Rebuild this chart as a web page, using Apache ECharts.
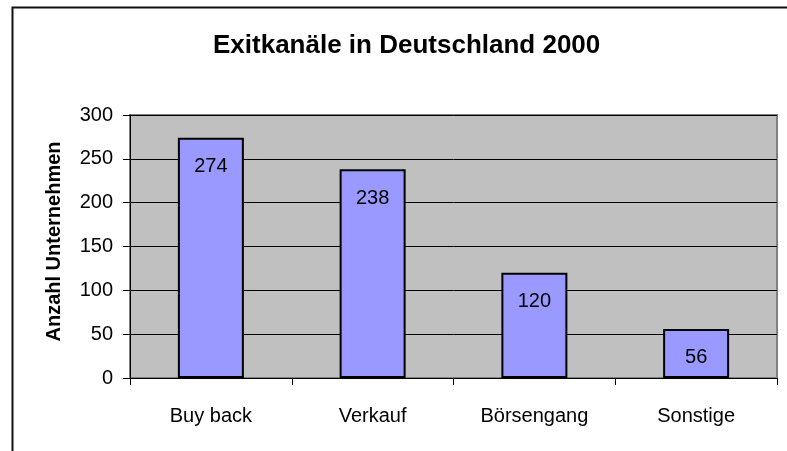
<!DOCTYPE html>
<html>
<head>
<meta charset="utf-8">
<title>Exitkanäle in Deutschland 2000</title>
<script src="https://cdn.jsdelivr.net/npm/echarts@6/dist/echarts.min.js"></script>
<style>
  html, body { margin: 0; padding: 0; background: #fff; }
  #chart { width: 787px; height: 451px; }
</style>
</head>
<body>
<div id="chart"></div>
<script>
// Daten aus dem Diagramm
const categories = ['Buy back', 'Verkauf', 'Börsengang', 'Sonstige']
const values = [274, 238, 120, 56]
const yTicks = [0, 50, 100, 150, 200, 250, 300]

const font = 'Liberation Sans, Arial, sans-serif'

const chart = echarts.init(document.getElementById('chart'))
chart.setOption({
  animation: false,
  title: {
    text: 'Exitkanäle in Deutschland 2000',
    left: 208,
    top: 28,
    textStyle: {
      fontFamily: font,
      fontSize: 26,
      fontWeight: 'bold',
      color: '#000',
    },
  },
  graphic: [
    {
      // Rahmen um das Diagramm
      type: 'rect',
      left: 10,
      top: 5,
      shape: { width: 800, height: 470 },
      style: { fill: 'none', stroke: '#111', lineWidth: 2 },
      silent: true,
    },
  ],
  grid: {
    left: 130,
    top: 115,
    right: 10,
    bottom: 73,
    show: true,
    backgroundColor: '#C0C0C0',
    borderColor: '#808080',
    borderWidth: 2,
  },
  xAxis: {
    type: 'category',
    data: categories,
    boundaryGap: true,
    axisLine: { show: true, lineStyle: { color: '#000', width: 1 } },
    axisTick: { show: true, alignWithLabel: false, length: 7, lineStyle: { color: '#000' } },
    axisLabel: {
      fontFamily: font,
      fontSize: 20,
      color: '#000',
      margin: 28,
    },
  },
  yAxis: {
    type: 'value',
    min: yTicks[0],
    max: yTicks[yTicks.length - 1],
    interval: yTicks[1] - yTicks[0],
    name: 'Anzahl Unternehmen',
    nameLocation: 'middle',
    nameGap: 66,
    nameTextStyle: {
      fontFamily: font,
      fontSize: 20,
      fontWeight: 'bold',
      color: '#000',
      padding: [0, 0, 0, 10],
    },
    axisLine: { show: true, lineStyle: { color: '#000', width: 1 } },
    axisTick: { show: true, length: 7, lineStyle: { color: '#000' } },
    axisLabel: {
      fontFamily: font,
      fontSize: 20,
      color: '#000',
      margin: 17,
    },
    splitLine: { show: true, lineStyle: { color: '#000', width: 1 } },
  },
  series: [
    {
      type: 'bar',
      data: values,
      barWidth: 66,
      itemStyle: {
        color: '#9999FF',
        borderColor: '#000',
        borderWidth: 2,
      },
      label: {
        show: true,
        position: 'insideTop',
        distance: 19,
        fontFamily: font,
        fontSize: 20,
        color: '#000',
      },
    },
  ],
})
</script>
</body>
</html>
